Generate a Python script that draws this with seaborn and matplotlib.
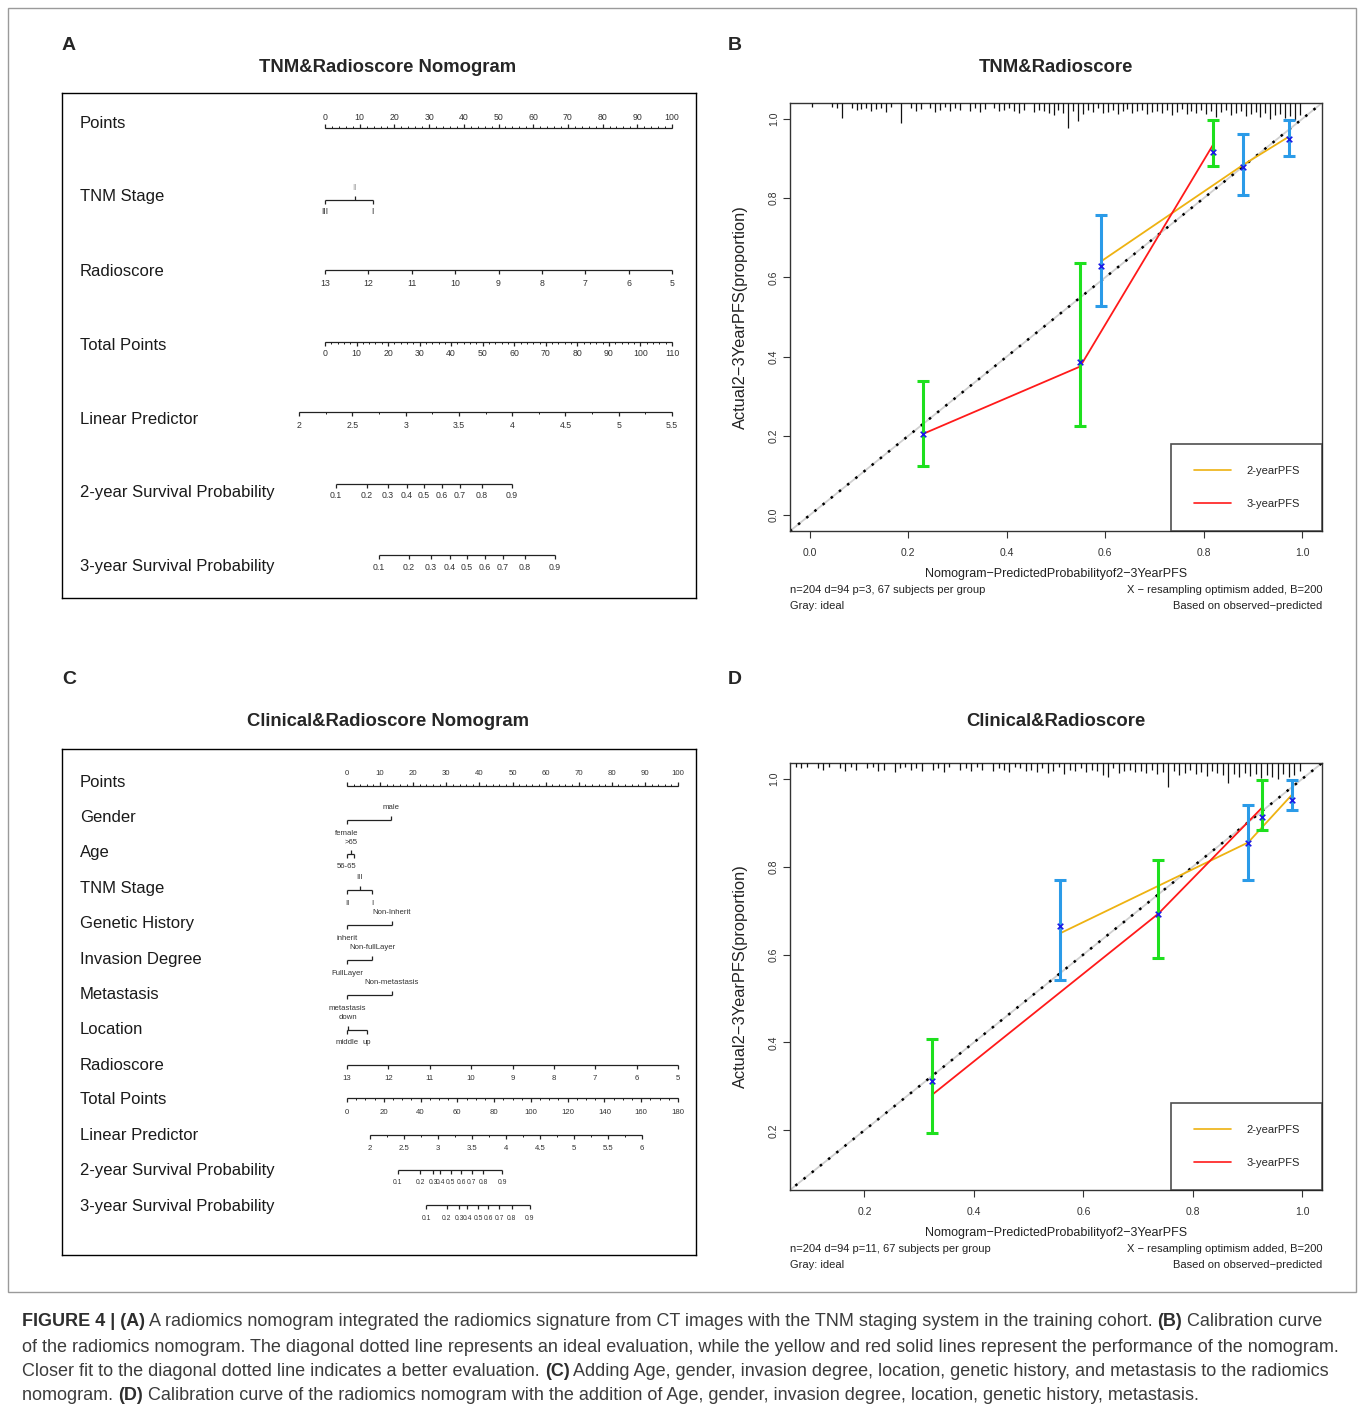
import numpy as np
import pandas as pd
import matplotlib
matplotlib.use("Agg")
import matplotlib.pyplot as plt
import matplotlib.transforms as mtransforms
from matplotlib.lines import Line2D
from matplotlib.patches import Rectangle
import seaborn as sns

sns.set_style("white")
plt.rcParams['font.family'] = ['Liberation Sans', 'DejaVu Sans']
plt.rcParams['axes.unicode_minus'] = True

# ---------------------------------------------------------------- data
# Panel A : TNM & Radioscore nomogram
A_points_ticks = list(range(0, 101, 10))
A_tnm_levels = ["III", "II", "I"]
A_tnm_points = [0.0, 8.6, 13.8]
A_radioscore_ticks = [13, 12, 11, 10, 9, 8, 7, 6, 5]
A_total_ticks = list(range(0, 111, 10))
A_total_max = 110
A_lp_ticks = [2, 2.5, 3, 3.5, 4, 4.5, 5, 5.5]
A_lp_total_at = (-8.2, 110.0)          # total points at LP=2 and LP=5.5
surv_ticks = [0.1, 0.2, 0.3, 0.4, 0.5, 0.6, 0.7, 0.8, 0.9]
A_surv2_total = [3.5, 13.3, 20.0, 26.0, 31.4, 37.1, 42.8, 49.8, 59.3]
A_surv3_total = [17.1, 26.6, 33.6, 39.6, 45.0, 50.7, 56.4, 63.4, 72.9]

# Panel C : Clinical & Radioscore nomogram
C_gender_levels = ["female", "male"]
C_gender_points = [0.0, 13.3]
C_age_levels = ["56-65", ">65", ""]
C_age_points = [0.0, 1.2, 2.1]
C_tnm_levels = ["II", "III", "I"]
C_tnm_points = [0.0, 3.9, 7.6]
C_gen_levels = ["inherit", "Non-Inherit"]
C_gen_points = [0.0, 13.6]
C_inv_levels = ["FullLayer", "Non-fullLayer"]
C_inv_points = [0.0, 7.6]
C_met_levels = ["metastasis", "Non-metastasis"]
C_met_points = [0.0, 13.6]
C_loc_levels = ["middle", "down", "up"]
C_loc_points = [0.0, 0.3, 6.0]
C_radioscore_ticks = [13, 12, 11, 10, 9, 8, 7, 6, 5]
C_total_ticks = list(range(0, 181, 20))
C_total_max = 180
C_lp_ticks = [2, 2.5, 3, 3.5, 4, 4.5, 5, 5.5, 6]
C_lp_total_at = (12.5, 160.3)          # total points at LP=2 and LP=6
C_surv2_total = [27.6, 39.7, 46.9, 50.6, 56.4, 62.0, 67.8, 74.1, 84.5]
C_surv3_total = [43.0, 54.2, 61.1, 65.4, 71.4, 76.8, 82.8, 89.6, 99.5]

# Panel B : calibration TNM & Radioscore
B_2y_pred = [0.591, 0.880, 0.974]
B_2y_apparent = [0.640, 0.884, 0.956]
B_2y_corrected = [0.629, 0.879, 0.949]
B_2y_lo = [0.528, 0.808, 0.907]
B_2y_hi = [0.758, 0.962, 0.997]
B_3y_pred = [0.230, 0.549, 0.819]
B_3y_apparent = [0.205, 0.375, 0.935]
B_3y_corrected = [0.205, 0.386, 0.917]
B_3y_lo = [0.124, 0.225, 0.881]
B_3y_hi = [0.338, 0.636, 0.997]
B_rug = [4, 0, 0, 0, 4, 5, 15, 0, 5, 7,
         6, 5, 8, 6, 5, 9, 4, 0, 20, 0,
         5, 8, 6, 0, 5, 9, 7, 4, 8, 5,
         7, 0, 8, 5, 9, 6, 0, 5, 8, 7,
         5, 8, 10, 7, 0, 9, 7, 8, 10, 12,
         7, 10, 25, 8, 18, 11, 7, 9, 5, 10,
         9, 7, 11, 8, 6, 10, 8, 7, 11, 9,
         8, 10, 7, 12, 9, 6, 11, 8, 10, 7,
         11, 8, 14, 9, 7, 12, 10, 8, 13, 11,
         9, 14, 10, 16, 12, 11, 15, 13, 17, 12]

# Panel D : calibration Clinical & Radioscore
D_2y_pred = [0.557, 0.901, 0.982]
D_2y_apparent = [0.648, 0.855, 0.965]
D_2y_corrected = [0.666, 0.855, 0.952]
D_2y_lo = [0.543, 0.770, 0.930]
D_2y_hi = [0.770, 0.941, 0.998]
D_3y_pred = [0.323, 0.737, 0.927]
D_3y_apparent = [0.280, 0.693, 0.935]
D_3y_corrected = [0.311, 0.693, 0.914]
D_3y_lo = [0.193, 0.593, 0.884]
D_3y_hi = [0.407, 0.816, 0.998]
D_rug = [0, 0, 0, 0, 0, 0, 0, 4, 5, 4,
         0, 5, 7, 4, 0, 5, 8, 4, 7, 0,
         5, 4, 8, 7, 0, 9, 5, 4, 7, 5,
         8, 0, 7, 5, 9, 4, 0, 7, 5, 8,
         4, 7, 0, 8, 5, 7, 9, 4, 5, 8,
         7, 9, 5, 10, 8, 4, 11, 7, 8, 5,
         9, 7, 8, 12, 14, 5, 10, 8, 7, 9,
         8, 10, 7, 11, 9, 24, 8, 12, 10, 7,
         11, 9, 13, 8, 10, 12, 20, 11, 14, 10,
         13, 11, 15, 12, 14, 16, 11, 14, 12, 8]

caption_lines = [
    [("FIGURE 4 | (A)", True),
     (" A radiomics nomogram integrated the radiomics signature from CT images with the TNM staging system in the training cohort. ", False),
     ("(B)", True), (" Calibration curve", False)],
    [("of the radiomics nomogram. The diagonal dotted line represents an ideal evaluation, while the yellow and red solid lines represent the performance of the nomogram.", False)],
    [("Closer fit to the diagonal dotted line indicates a better evaluation. ", False), ("(C)", True),
     (" Adding Age, gender, invasion degree, location, genetic history, and metastasis to the radiomics", False)],
    [("nomogram. ", False), ("(D)", True),
     (" Calibration curve of the radiomics nomogram with the addition of Age, gender, invasion degree, location, genetic history, metastasis.", False)],
]

# ---------------------------------------------------------------- figure
W, H = 1360, 1415
fig = plt.figure(figsize=(W / 100, H / 100), dpi=100)


def add_ax(x0, y0, x1, y1):
    return fig.add_axes([x0 / W, 1 - y1 / H, (x1 - x0) / W, (y1 - y0) / H])


def ftext(x, y, s, **kw):
    return fig.text(x / W, 1 - y / H, s, **kw)


# outer frame
fig.patches.append(Rectangle((8 / W, 1 - 1292 / H), (1356 - 8) / W, (1292 - 8) / H,
                             transform=fig.transFigure, fill=False, ec="#9a9a9a", lw=1.0))

INK = "#222222"


def nomo_scale(ax, y, pos, labels, sides, minor=None, fs=6.0, off=12, colors=None, lw=0.9):
    pos = np.asarray(pos, float)
    ax.hlines(y, pos.min(), pos.max(), color=INK, lw=lw)
    for i, (p, lab) in enumerate(zip(pos, labels)):
        s = sides[i] if isinstance(sides, (list, tuple)) else sides
        d = 1 if s == "below" else -1
        ax.vlines(p, y, y + d * 4, color=INK, lw=lw)
        c = colors[i] if colors else "#333333"
        if lab != "":
            ax.text(p, y + d * off, lab, ha="center", va="center", fontsize=fs, color=c)
    if minor is not None:
        s = sides if not isinstance(sides, (list, tuple)) else sides[0]
        d = 1 if s == "below" else -1
        ax.vlines(minor, y, y + d * 2, color=INK, lw=lw * 0.8)


def nomogram_axes(box, p0px, p100px):
    x0, y0, x1, y1 = box
    ax = add_ax(x0, y0, x1, y1)
    ppp = (p100px - p0px) / 100.0
    ax.set_xlim((x0 - p0px) / ppp, (x1 - p0px) / ppp)
    ax.set_ylim(y1, y0)
    ax.set_xticks([])
    ax.set_yticks([])
    for sp in ax.spines.values():
        sp.set_visible(True)
        sp.set_color("black")
        sp.set_linewidth(1.0)
    return ax


def row_label(ax, y, s, box):
    tr = mtransforms.blended_transform_factory(ax.transAxes, ax.transData)
    ax.text(18 / (box[2] - box[0]), y, s, transform=tr, ha="left", va="center",
            fontsize=12, color="#1a1a1a")


# ------------------------------------------------ Panel A
boxA = (62, 93, 696, 598)
axA = nomogram_axes(boxA, 325, 672)
ftext(62, 45, "A", fontsize=14, fontweight="bold", ha="left", va="center")
ftext(388, 68, "TNM&Radioscore Nomogram", fontsize=13.3, fontweight="bold", ha="center", va="center")

rowsA = {"Points": 124, "TNM Stage": 197, "Radioscore": 271, "Total Points": 345,
         "Linear Predictor": 419, "2-year Survival Probability": 493,
         "3-year Survival Probability": 567}
for k, v in rowsA.items():
    row_label(axA, v, k, boxA)

fsA = 6.3
nomo_scale(axA, 128, A_points_ticks, [str(t) for t in A_points_ticks], "above",
           minor=np.arange(0, 101, 2), off=10, fs=fsA)
nomo_scale(axA, 200, A_tnm_points, A_tnm_levels, ["below", "above", "below"],
           colors=["#333333", "#aaaaaa", "#333333"], fs=fsA)
rs = np.asarray(A_radioscore_ticks, float)
nomo_scale(axA, 270, (13 - rs) / 8 * 100, [str(t) for t in A_radioscore_ticks], "below", off=13, fs=fsA)
tp = np.asarray(A_total_ticks, float)
nomo_scale(axA, 342, tp / A_total_max * 100, [str(t) for t in A_total_ticks], "below",
           minor=np.arange(0, A_total_max + 1, 2) / A_total_max * 100, off=12, fs=fsA)
lp = np.asarray(A_lp_ticks, float)
lp_tp = A_lp_total_at[0] + (lp - 2) / (5.5 - 2) * (A_lp_total_at[1] - A_lp_total_at[0])
lp_minor = np.arange(2, 5.51, 0.25)
lp_minor_tp = A_lp_total_at[0] + (lp_minor - 2) / (5.5 - 2) * (A_lp_total_at[1] - A_lp_total_at[0])
nomo_scale(axA, 412, lp_tp / A_total_max * 100, [f"{t:g}" for t in A_lp_ticks], "below",
           minor=lp_minor_tp / A_total_max * 100, off=13, fs=fsA)
nomo_scale(axA, 484, np.asarray(A_surv2_total) / A_total_max * 100,
           [f"{t:g}" for t in surv_ticks], "below", off=12, fs=fsA)
nomo_scale(axA, 555, np.asarray(A_surv3_total) / A_total_max * 100,
           [f"{t:g}" for t in surv_ticks], "below", off=12, fs=fsA)

# ------------------------------------------------ Panel C
boxC = (62, 749, 696, 1255)
axC = nomogram_axes(boxC, 347, 678)
ftext(62, 680, "C", fontsize=14, fontweight="bold", ha="left", va="center")
ftext(388, 722, "Clinical&Radioscore Nomogram", fontsize=13.3, fontweight="bold", ha="center", va="center")

rowsC = {"Points": 782, "Gender": 817, "Age": 852, "TNM Stage": 888, "Genetic History": 923,
         "Invasion Degree": 959, "Metastasis": 994, "Location": 1029, "Radioscore": 1065,
         "Total Points": 1100, "Linear Predictor": 1136, "2-year Survival Probability": 1171,
         "3-year Survival Probability": 1207}
for k, v in rowsC.items():
    row_label(axC, v, k, boxC)

fsC = 5.6
nomo_scale(axC, 786, A_points_ticks, [str(t) for t in A_points_ticks], "above",
           minor=np.arange(0, 101, 2), off=13, fs=fsC)
nomo_scale(axC, 820, C_gender_points, C_gender_levels, ["below", "above"], off=13, fs=fsC)
nomo_scale(axC, 854, C_age_points, C_age_levels, ["below", "above", "below"], off=12, fs=fsC)
nomo_scale(axC, 890, C_tnm_points, C_tnm_levels, ["below", "above", "below"], off=13, fs=fsC)
nomo_scale(axC, 925, C_gen_points, C_gen_levels, ["below", "above"], off=13, fs=fsC)
nomo_scale(axC, 960, C_inv_points, C_inv_levels, ["below", "above"], off=13, fs=fsC)
nomo_scale(axC, 995, C_met_points, C_met_levels, ["below", "above"], off=13, fs=fsC)
nomo_scale(axC, 1030, C_loc_points, C_loc_levels, ["below", "above", "below"], off=13, fs=fsC)
rs = np.asarray(C_radioscore_ticks, float)
nomo_scale(axC, 1065, (13 - rs) / 8 * 100, [str(t) for t in C_radioscore_ticks], "below", off=13, fs=fsC)
tp = np.asarray(C_total_ticks, float)
nomo_scale(axC, 1098, tp / C_total_max * 100, [str(t) for t in C_total_ticks], "below",
           minor=np.arange(0, C_total_max + 1, 5) / C_total_max * 100, off=14, fs=fsC)
lp = np.asarray(C_lp_ticks, float)
lp_tp = C_lp_total_at[0] + (lp - 2) / (6 - 2) * (C_lp_total_at[1] - C_lp_total_at[0])
lp_minor = np.arange(2, 6.01, 0.25)
lp_minor_tp = C_lp_total_at[0] + (lp_minor - 2) / (6 - 2) * (C_lp_total_at[1] - C_lp_total_at[0])
nomo_scale(axC, 1135, lp_tp / C_total_max * 100, [f"{t:g}" for t in C_lp_ticks], "below",
           minor=lp_minor_tp / C_total_max * 100, off=13, fs=fsC)
nomo_scale(axC, 1170, np.asarray(C_surv2_total) / C_total_max * 100,
           [f"{t:g}" for t in surv_ticks], "below", off=13, fs=4.9)
nomo_scale(axC, 1205, np.asarray(C_surv3_total) / C_total_max * 100,
           [f"{t:g}" for t in surv_ticks], "below", off=13, fs=4.9)

# ------------------------------------------------ calibration panels
YEL = "#EEB211"
RED = "#FF1A1A"
GRN = "#1EE01E"
BLU = "#2B9BE8"
XBL = "#1A1AE6"


def calib(box, lims, ticks, pred2, app2, cor2, lo2, hi2, pred3, app3, cor3, lo3, hi3,
          rug, letter, title, sub_n):
    x0, y0, x1, y1 = box
    ax = add_ax(x0, y0, x1, y1)
    ax.set_xlim(*lims)
    ax.set_ylim(*lims)
    # ideal line
    ax.plot([lims[0] - 0.05, lims[1] + 0.05], [lims[0] - 0.05, lims[1] + 0.05],
            color="#d0d0d0", lw=1.3, zorder=1)
    ax.plot([lims[0] - 0.05, lims[1] + 0.05], [lims[0] - 0.05, lims[1] + 0.05],
            color="black", lw=1.8, ls=(0, (1, 3.2)), zorder=2)
    # spike histogram at top
    rug = np.asarray(rug, float)
    centers = np.arange(len(rug)) * 0.01 + 0.005
    keep = rug > 0
    unit = (lims[1] - lims[0]) / (y1 - y0)
    ax.vlines(centers[keep], lims[1] - rug[keep] * unit, lims[1], color="#111111", lw=0.9, zorder=3)
    # 2-year / 3-year lines
    df2 = pd.DataFrame({"pred": pred2, "obs": app2})
    df3 = pd.DataFrame({"pred": pred3, "obs": app3})
    sns.lineplot(data=df2, x="pred", y="obs", ax=ax, color=YEL, lw=1.3, sort=False,
                 estimator=None, zorder=4)
    sns.lineplot(data=df3, x="pred", y="obs", ax=ax, color=RED, lw=1.3, sort=False,
                 estimator=None, zorder=4)
    c2 = np.asarray(cor2)
    c3 = np.asarray(cor3)
    ax.errorbar(pred2, c2, yerr=[c2 - np.asarray(lo2), np.asarray(hi2) - c2], fmt="none",
                ecolor=BLU, elinewidth=2.2, capsize=4.3, capthick=2.2, zorder=5)
    ax.errorbar(pred3, c3, yerr=[c3 - np.asarray(lo3), np.asarray(hi3) - c3], fmt="none",
                ecolor=GRN, elinewidth=2.2, capsize=4.3, capthick=2.2, zorder=5)
    ax.scatter(pred2, c2, marker="x", s=16, color=XBL, lw=1.2, zorder=6)
    ax.scatter(pred3, c3, marker="x", s=16, color=XBL, lw=1.2, zorder=6)
    # axes style
    ax.set_xticks(ticks)
    ax.set_yticks(ticks)
    ax.set_xticklabels([f"{t:.1f}" for t in ticks], fontsize=7.5, color="#333333")
    ax.set_yticklabels([f"{t:.1f}" for t in ticks], fontsize=7.5, color="#333333",
                       rotation=90, va="center")
    ax.tick_params(axis="x", direction="out", length=5, width=0.8, color="#333333", pad=7,
                   bottom=True)
    ax.tick_params(axis="y", direction="out", length=5, width=0.8, color="#333333", pad=3,
                   left=True)
    for sp in ax.spines.values():
        sp.set_visible(True)
        sp.set_color("#333333")
        sp.set_linewidth(1.0)
    ax.set_xlabel("")
    ax.set_ylabel("")
    hdl = [Line2D([0], [0], color=YEL, lw=1.2), Line2D([0], [0], color=RED, lw=1.2)]
    leg = ax.legend(hdl, ["2-yearPFS", "3-yearPFS"], loc="lower right", borderaxespad=0,
                    frameon=True, fancybox=False, edgecolor="#222222", fontsize=8,
                    handlelength=3.4, handletextpad=1.35, labelspacing=2.05, borderpad=2.0)
    leg.get_frame().set_linewidth(1.2)
    leg.set_zorder(7)
    w = x1 - x0
    h = y1 - y0
    ax.text(-50 / w, 0.5, "Actual2\u22123YearPFS(proportion)", transform=ax.transAxes,
            rotation=90, ha="center", va="center", fontsize=11.8, color="#222222")
    ax.text(0.5, -43 / h, "Nomogram\u2212PredictedProbabilityof2\u22123YearPFS", transform=ax.transAxes,
            ha="center", va="center", fontsize=9, color="#222222")
    ax.text(0, -59 / h, sub_n, transform=ax.transAxes, ha="left", va="center", fontsize=8,
            color="#222222")
    ax.text(0, -75 / h, "Gray: ideal", transform=ax.transAxes, ha="left", va="center",
            fontsize=8, color="#222222")
    ax.text(1, -59 / h, "X \u2212 resampling optimism added, B=200", transform=ax.transAxes,
            ha="right", va="center", fontsize=8, color="#222222")
    ax.text(1, -75 / h, "Based on observed\u2212predicted", transform=ax.transAxes,
            ha="right", va="center", fontsize=8, color="#222222")
    ftext(x0 - 62, y0 - 58 if letter == "B" else y0 - 83, letter, fontsize=14,
          fontweight="bold", ha="left", va="center")
    ftext((x0 + x1) / 2, y0 - 35 if letter == "B" else y0 - 41, title, fontsize=13.3,
          fontweight="bold", ha="center", va="center")
    return ax


calib((790, 103, 1322, 531), (-0.04, 1.04), [0.0, 0.2, 0.4, 0.6, 0.8, 1.0],
      B_2y_pred, B_2y_apparent, B_2y_corrected, B_2y_lo, B_2y_hi,
      B_3y_pred, B_3y_apparent, B_3y_corrected, B_3y_lo, B_3y_hi,
      B_rug, "B", "TNM&Radioscore", "n=204 d=94 p=3, 67 subjects per group")
calib((790, 763, 1322, 1190), (0.064, 1.036), [0.2, 0.4, 0.6, 0.8, 1.0],
      D_2y_pred, D_2y_apparent, D_2y_corrected, D_2y_lo, D_2y_hi,
      D_3y_pred, D_3y_apparent, D_3y_corrected, D_3y_lo, D_3y_hi,
      D_rug, "D", "Clinical&Radioscore", "n=204 d=94 p=11, 67 subjects per group")

# ------------------------------------------------ caption
renderer = fig.canvas.get_renderer()
cap_y = [1322, 1347, 1371, 1396]
for yy, segs in zip(cap_y, caption_lines):
    x = 22.0
    for txt, bold in segs:
        t = ftext(x, yy, txt, fontsize=13.0, fontweight="bold" if bold else "normal",
                  ha="left", va="center", color="#2e2e2e" if bold else "#3c3c3c")
        bb = t.get_window_extent(renderer=renderer)
        x += bb.width

fig.savefig("out.png", dpi=100)
